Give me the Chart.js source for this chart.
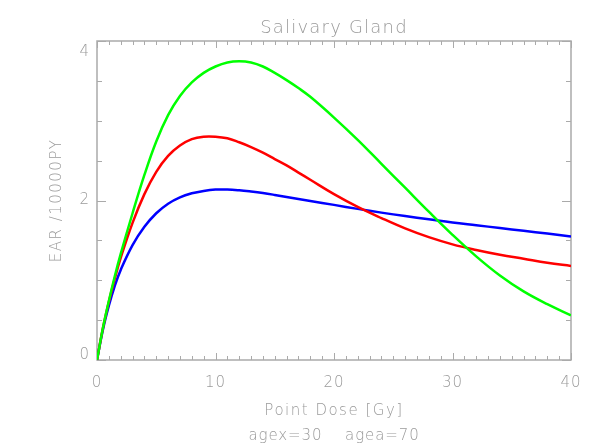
<!DOCTYPE html>
<html>
<head>
<meta charset="utf-8">
<script src="https://cdn.jsdelivr.net/npm/chart.js@4.4.0/dist/chart.umd.min.js"></script>
<style>
body { margin: 0; background: #fff; }
</style>
</head>
<body>
<canvas id="chart" width="600" height="443"></canvas>
<script>
// dose points (Gy)
let dose = [0, 0.5, 1, 1.5, 2, 3, 4, 5, 6, 7, 8, 9, 10, 11, 12, 13, 14, 15, 16, 17, 18, 20, 22, 24, 26, 28, 30, 32, 34, 36, 38, 40];
let earBlue  = [0, 0.38, 0.68, 0.93, 1.13, 1.44, 1.67, 1.84, 1.96, 2.04, 2.09, 2.12, 2.137, 2.138, 2.128, 2.112, 2.093, 2.07, 2.045, 2.02, 1.995, 1.945, 1.895, 1.848, 1.805, 1.765, 1.725, 1.69, 1.655, 1.62, 1.585, 1.55];
let earRed   = [0, 0.40, 0.73, 1.02, 1.28, 1.72, 2.08, 2.36, 2.56, 2.69, 2.77, 2.80, 2.80, 2.78, 2.73, 2.67, 2.60, 2.52, 2.44, 2.35, 2.26, 2.08, 1.92, 1.78, 1.65, 1.54, 1.45, 1.38, 1.32, 1.27, 1.22, 1.18];
let earGreen = [0, 0.40, 0.74, 1.05, 1.33, 1.84, 2.32, 2.74, 3.07, 3.31, 3.48, 3.60, 3.68, 3.73, 3.745, 3.73, 3.68, 3.60, 3.51, 3.41, 3.30, 3.04, 2.76, 2.46, 2.16, 1.86, 1.57, 1.30, 1.06, 0.86, 0.70, 0.56];

let xTicks = [0, 10, 20, 30, 40];
let yTicks = [0, 2, 4];

let titleText = "Salivary Gland";
let xTitle = "Point Dose [Gy]";
let yTitle = "EAR /10000PY";
let noteText = "agex=30    agea=70";

function pts(arr) {
    return arr.map((v, i) => ({ x: dose[i], y: v }));
}

let grey = "#9a9a9a";
let font = "'DejaVu Sans', sans-serif";

// box, inward ticks and all texts
const axesBox = {
    id: "axesBox",
    beforeDatasetsDraw(chart) {
        let ctx = chart.ctx, a = chart.chartArea;
        let x = chart.scales.x, y = chart.scales.y;
        ctx.save();
        ctx.strokeStyle = "#aaaaaa";
        ctx.lineWidth = 1.5;
        ctx.strokeRect(a.left, a.top, a.right - a.left, a.bottom - a.top);
        ctx.lineWidth = 1;
        ctx.beginPath();
        for (let v = 0; v <= 40; v++) {
            let px = Math.round(x.getPixelForValue(v)) + 0.5;
            let len = v % 10 == 0 ? 7 : 4;
            ctx.moveTo(px, a.bottom); ctx.lineTo(px, a.bottom - len);
            ctx.moveTo(px, a.top); ctx.lineTo(px, a.top + len);
        }
        for (let v = 0; v <= 4; v += 0.5) {
            let py = Math.round(y.getPixelForValue(v)) + 0.5;
            let len = v % 2 == 0 ? 9 : 5;
            ctx.moveTo(a.left, py); ctx.lineTo(a.left + len, py);
            ctx.moveTo(a.right, py); ctx.lineTo(a.right - len, py);
        }
        ctx.stroke();
        ctx.restore();
    },
    afterDraw(chart) {
        let ctx = chart.ctx, a = chart.chartArea;
        let x = chart.scales.x, y = chart.scales.y;
        let cx = (a.left + a.right) / 2;
        ctx.save();
        ctx.fillStyle = grey;
        ctx.textBaseline = "middle";
        ctx.textAlign = "center";
        ctx.font = "200 18px " + font;
        ctx.letterSpacing = "1.2px";
        ctx.fillText(titleText, cx, 28);
        ctx.font = "200 15px " + font;
        ctx.letterSpacing = "1px";
        xTicks.forEach(v => ctx.fillText(String(v), x.getPixelForValue(v), 383));
        ctx.letterSpacing = "1.5px";
        ctx.fillText(xTitle, cx, 411);
        ctx.letterSpacing = "0.9px";
        ctx.fillText(noteText, cx, 436);
        ctx.letterSpacing = "1px";
        ctx.textAlign = "right";
        yTicks.forEach(v => {
            let py = Math.min(Math.max(y.getPixelForValue(v), a.top + 11), a.bottom - 5);
            ctx.fillText(String(v), a.left - 7, py);
        });
        ctx.translate(57, (a.top + a.bottom) / 2);
        ctx.rotate(-Math.PI / 2);
        ctx.textAlign = "center";
        ctx.letterSpacing = "1.5px";
        ctx.fillText(yTitle, 0, 0);
        ctx.restore();
    }
};

function line(data, color) {
    return {
        data: pts(data),
        borderColor: color,
        borderWidth: 2.5,
        pointRadius: 0,
        fill: false,
        tension: 0.4
    };
}

let ctx = document.getElementById("chart").getContext("2d");
new Chart(ctx, {
    type: "line",
    data: {
        datasets: [
            line(earGreen, "#00ff00"),
            line(earRed, "#ff0000"),
            line(earBlue, "#0000ff")
        ]
    },
    options: {
        responsive: false,
        animation: false,
        layout: { padding: { left: 97, top: 41, right: 29, bottom: 83 } },
        plugins: { legend: { display: false }, tooltip: { enabled: false } },
        scales: {
            x: { type: "linear", min: 0, max: 40, display: false },
            y: { type: "linear", min: 0, max: 4, display: false }
        }
    },
    plugins: [axesBox]
});
</script>
</body>
</html>
